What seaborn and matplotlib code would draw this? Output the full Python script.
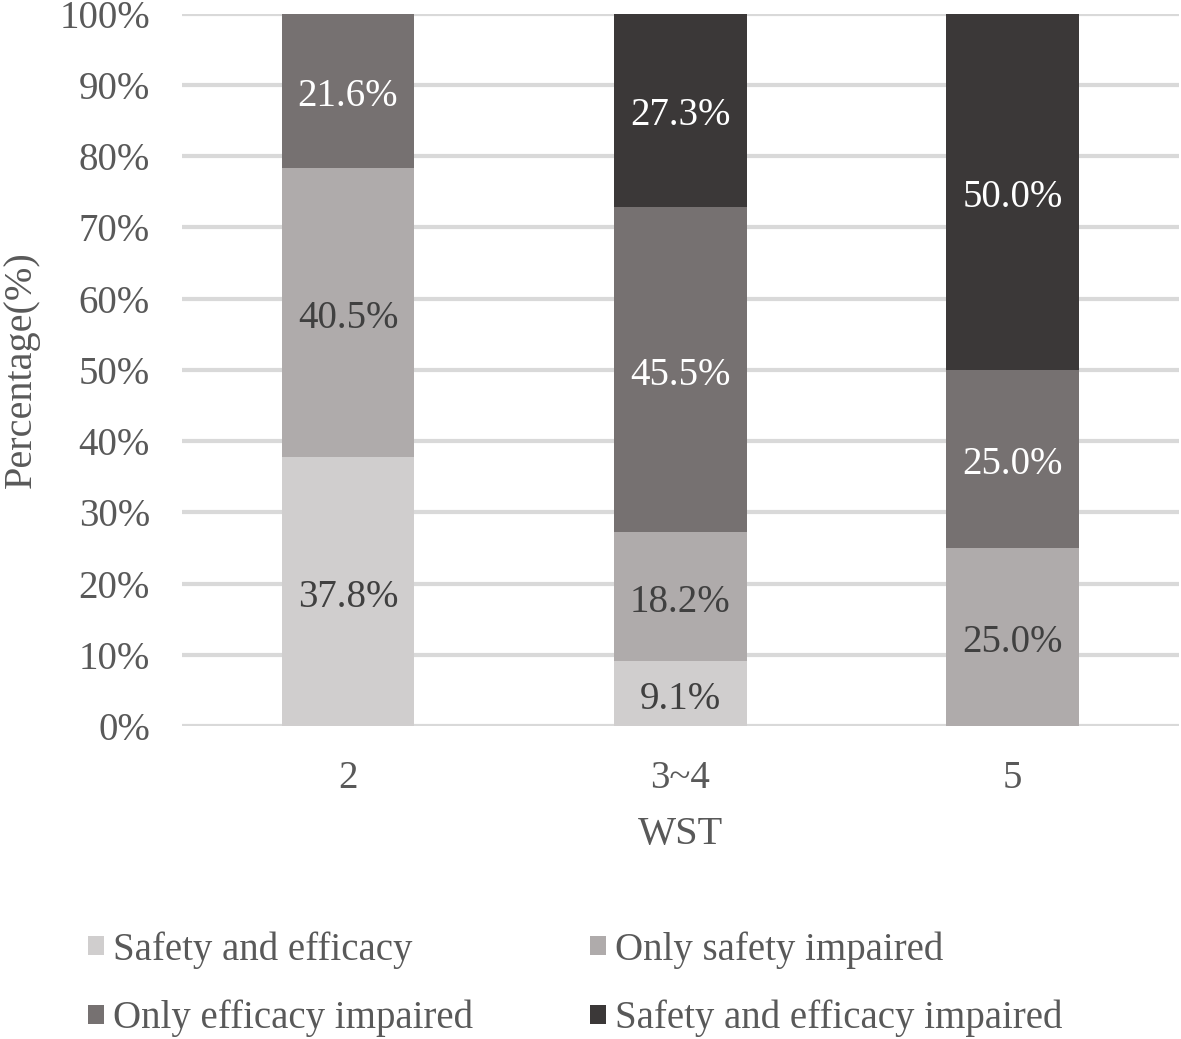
import pandas as pd
import numpy as np
import seaborn as sns
import matplotlib.pyplot as plt
from matplotlib.patches import Patch

# WST groups and outcome shares (%)
categories = ["2", "3~4", "5"]
series_names = ["Safety and efficacy", "Only safety impaired",
                "Only efficacy impaired", "Safety and efficacy impaired"]
safety_efficacy = [37.8, 9.1, 0.0]
only_safety = [40.5, 18.2, 25.0]
only_efficacy = [21.6, 45.5, 25.0]
both_impaired = [0.0, 27.3, 50.0]

colors = ["#d0cece", "#afabab", "#767171", "#3b3838"]
text_colors = ["#404040", "#404040", "white", "white"]

sns.set_theme(style="white")
plt.rcParams["font.family"] = ["Liberation Serif", "DejaVu Serif"]

fig, ax = plt.subplots(figsize=(11.81, 10.39), dpi=100)
fig.subplots_adjust(left=0.154, right=0.998, top=0.987, bottom=0.301)

layers = [safety_efficacy, only_safety, only_efficacy, both_impaired]
bottom = np.zeros(len(categories))
for name, vals, col, tcol in zip(series_names, layers, colors, text_colors):
    df = pd.DataFrame({"WST": categories, "value": vals})
    sns.barplot(data=df, x="WST", y="value", order=categories, color=col,
                width=0.4, bottom=bottom.copy(), saturation=1, ax=ax,
                edgecolor="none", linewidth=0, zorder=3)
    for i, v in enumerate(vals):
        if v > 0:
            ax.text(i, bottom[i] + v / 2 - 0.8, f"{v:.1f}%", ha="center", va="center",
                    fontsize=28, color=tcol, zorder=4)
    bottom += np.array(vals)

ax.set_xlim(-0.5, 2.5)
ax.set_ylim(0, 100)
ax.set_yticks(np.arange(0, 101, 10))
ax.set_yticklabels([f"{t}%" for t in range(0, 101, 10)])
ax.yaxis.grid(True, color="#d9d9d9", linewidth=3, zorder=0)
ax.set_axisbelow(True)
for s in ax.spines.values():
    s.set_visible(False)
ax.tick_params(axis="both", length=0, labelsize=28, colors="#595959")
ax.tick_params(axis="y", pad=23)
ax.tick_params(axis="x", pad=24)
ax.set_xlabel("WST", fontsize=29, color="#595959", labelpad=14)
ax.set_ylabel("Percentage(%)", fontsize=29, color="#595959", labelpad=14)

# legend filled row by row like the original
order = [0, 2, 1, 3]
handles = [Patch(facecolor=colors[k], edgecolor="none") for k in order]
labels = [series_names[k] for k in order]
fig.legend(handles, labels, loc="lower left", bbox_to_anchor=(0.045, -0.032),
           ncol=2, frameon=False, fontsize=28, handlelength=0.4, handleheight=0.4,
           handletextpad=0.25, columnspacing=3.0, labelspacing=0.8,
           labelcolor="#595959")

plt.savefig("out.png", dpi=100)
